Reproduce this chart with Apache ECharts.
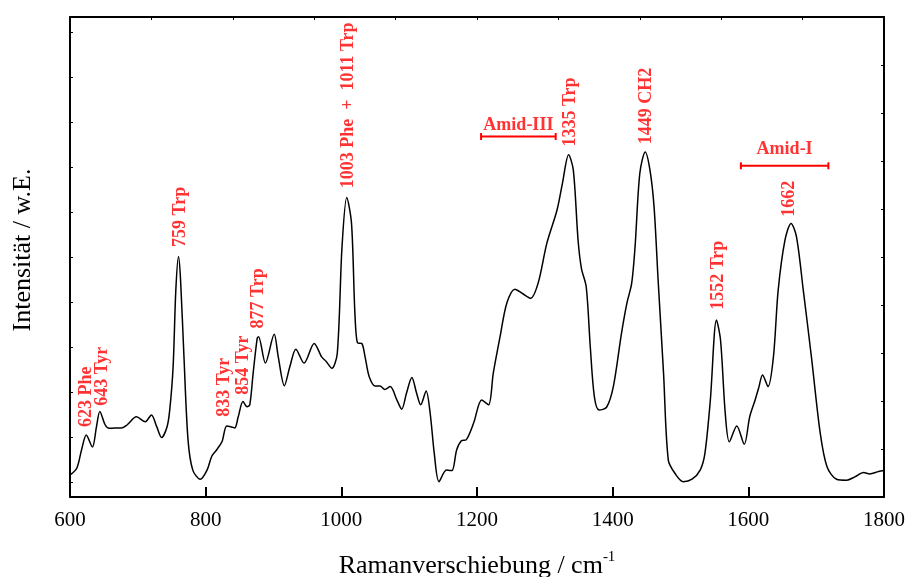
<!DOCTYPE html>
<html>
<head>
<meta charset="utf-8">
<script src="https://cdn.jsdelivr.net/npm/echarts@6/dist/echarts.min.js"></script>
<style>
html, body { margin: 0; padding: 0; background: #fff; }
#chart { width: 907px; height: 577px; }
</style>
</head>
<body>
<div id="chart"></div>
<script>
// Raman spectrum (intensity in arbitrary units 0..100)
const wavenumber = [600, 610, 617, 624, 633, 639, 644, 652, 658, 666, 676, 684, 698, 711, 720, 728, 735, 743, 747, 752,
  756, 760, 763, 768, 774, 781, 792, 802, 809, 816, 824, 831, 838, 843, 848, 855, 861, 865, 870, 876,
  878, 888, 901, 907, 916, 924, 933, 945, 960, 971, 978, 986, 994, 1001, 1008, 1015, 1020, 1024, 1030, 1035,
  1041, 1050, 1057, 1064, 1072, 1082, 1089, 1096, 1104, 1111, 1117, 1125, 1131, 1137, 1144, 1155, 1163, 1170, 1177, 1184,
  1195, 1207, 1217, 1224, 1234, 1244, 1256, 1267, 1279, 1290, 1303, 1318, 1326, 1335, 1342, 1349, 1354, 1361, 1367, 1373,
  1380, 1391, 1401, 1413, 1421, 1428, 1433, 1440, 1448, 1455, 1461, 1467, 1475, 1482, 1492, 1504, 1517, 1529, 1536, 1544,
  1553, 1559, 1566, 1572, 1583, 1594, 1602, 1610, 1615, 1621, 1629, 1637, 1644, 1654, 1663, 1671, 1681, 1693, 1706, 1716,
  1730, 1745, 1757, 1770, 1779, 1792, 1800];
const intensity = [4.6, 6.0, 9.8, 12.9, 10.4, 14.6, 17.8, 15.0, 14.3, 14.4, 14.4, 15.0, 16.7, 15.7, 17.1, 14.6, 12.4, 14.6, 18.1, 27.1,
  43.1, 50.1, 45.2, 29.2, 11.9, 5.6, 3.7, 5.6, 8.5, 9.8, 11.5, 14.8, 14.6, 14.4, 16.7, 19.9, 18.8, 19.2, 25.8, 33.1,
  33.4, 27.9, 33.9, 29.2, 23.2, 27.1, 30.8, 27.9, 32.0, 29.2, 28.2, 26.8, 29.9, 52.1, 62.4, 57.0, 38.3, 32.1, 32.0, 29.2,
  25.1, 23.1, 23.1, 22.4, 23.0, 20.2, 18.3, 21.6, 24.9, 21.6, 19.2, 22.1, 17.4, 9.1, 3.2, 5.6, 5.5, 9.8, 11.7, 11.9,
  15.4, 20.2, 19.2, 25.8, 33.4, 40.4, 43.3, 42.4, 41.4, 44.5, 52.9, 59.8, 65.4, 71.3, 68.1, 53.5, 47.6, 43.8, 31.3, 20.9,
  18.1, 18.7, 23.0, 34.1, 40.4, 44.5, 52.1, 67.4, 71.9, 68.1, 60.5, 45.2, 25.8, 7.7, 4.9, 3.2, 3.7, 5.6, 9.1, 20.2,
  36.9, 32.7, 17.4, 11.5, 14.8, 11.0, 16.7, 20.2, 22.6, 25.4, 23.0, 29.2, 43.1, 53.5, 57.0, 54.2, 43.1, 29.2, 13.3, 6.3,
  3.7, 3.5, 4.2, 5.1, 4.8, 5.3, 5.5];

// peak assignments: label text, where the (rotated) text starts
const peakNames = ['623 Phe', '643 Tyr', '759 Trp', '833 Tyr', '854 Tyr', '877 Trp',
  '1003 Phe  +  1011 Trp', '1335 Trp', '1449 CH2', '1552 Trp', '1662'];
const peakX = [624, 647, 763, 827, 856, 878, 1010, 1338, 1449, 1556, 1661];
const peakY = [14.6, 19.0, 52.1, 16.7, 21.3, 35.1, 64.3, 73.0, 73.5, 39.0, 58.4];

// amide band ranges
const bandNames = ['Amid-III', 'Amid-I'];
const bandStart = [1206, 1589];
const bandEnd = [1316, 1718];
const bandY = [75.1, 69.0];
const bandLabelY = [77.4, 72.5];

const leftTicks = [3.125, 12.5, 21.875, 31.25, 40.625, 50, 59.375, 68.75, 78.125, 87.5, 96.875];

const serif = 'Liberation Serif, Times New Roman, serif';
const red = '#ff0000';

let spectrum = wavenumber.map(function (w, i) { return [w, intensity[i]]; });
let peaks = peakNames.map(function (n, i) { return { name: n, value: [peakX[i], peakY[i]] }; });

let bandSeries = bandNames.map(function (n, i) {
  return {
    type: 'line',
    data: [[bandStart[i], bandY[i]], [bandEnd[i], bandY[i]]],
    symbol: 'rect',
    symbolSize: [2, 7],
    itemStyle: { color: red },
    lineStyle: { color: red, width: 2 },
    silent: true,
    z: 5
  };
});

let chart = echarts.init(document.getElementById('chart'));
chart.setOption({
  animation: false,
  grid: { left: 70, top: 17, right: 23, bottom: 80, outerBoundsMode: 'none', containLabel: false },
  xAxis: [{
    type: 'value',
    min: 600,
    max: 1800,
    interval: 200,
    name: 'Ramanverschiebung / cm{sup|-1}',
    nameLocation: 'middle',
    nameGap: 53,
    nameTextStyle: {
      fontFamily: serif, fontSize: 26, color: '#000',
      rich: { sup: { fontFamily: serif, fontSize: 15, color: '#000', verticalAlign: 'top', padding: [0, 0, 18, 0] } }
    },
    axisLine: { onZero: false, lineStyle: { color: '#000', width: 2 } },
    axisTick: { inside: true, length: 10, lineStyle: { color: '#000', width: 2 } },
    axisLabel: {
      fontFamily: serif, fontSize: 21, color: '#000', margin: 13,
      formatter: function (v) { return String(v); }
    },
    splitLine: { show: false }
  }, {
    type: 'value',
    position: 'top',
    min: 600,
    max: 1800,
    interval: 120,
    axisLine: { onZero: false, lineStyle: { color: '#000', width: 2 } },
    axisTick: { inside: true, length: 3, lineStyle: { color: '#000', width: 1 } },
    axisLabel: { show: false },
    splitLine: { show: false }
  }],
  yAxis: [{
    type: 'value',
    min: 0,
    max: 100,
    name: 'Intensität / w.E.',
    nameLocation: 'middle',
    nameGap: 34,
    nameTextStyle: { fontFamily: serif, fontSize: 26, color: '#000', padding: [0, 0, 0, 14] },
    axisLine: { onZero: false, lineStyle: { color: '#000', width: 2 } },
    axisTick: { inside: true, length: 3, customValues: leftTicks, lineStyle: { color: '#000', width: 1 } },
    axisLabel: { show: false },
    splitLine: { show: false }
  }, {
    type: 'value',
    position: 'right',
    min: 0,
    max: 100,
    interval: 10,
    axisLine: { onZero: false, lineStyle: { color: '#000', width: 2 } },
    axisTick: { inside: true, length: 3, lineStyle: { color: '#000', width: 1 } },
    axisLabel: { show: false },
    splitLine: { show: false }
  }],
  series: [{
    type: 'line',
    data: spectrum,
    showSymbol: false,
    smooth: 0.3,
    lineStyle: { color: '#000', width: 1.5 },
    z: 3
  }, {
    type: 'scatter',
    data: peaks,
    symbolSize: 0,
    silent: true,
    label: {
      show: true,
      position: 'inside',
      rotate: 90,
      align: 'left',
      verticalAlign: 'middle',
      formatter: '{b}',
      fontFamily: serif,
      fontSize: 18,
      fontWeight: 'bold',
      color: red
    },
    z: 6
  }, {
    type: 'scatter',
    data: bandNames.map(function (n, i) {
      return { name: n, value: [(bandStart[i] + bandEnd[i]) / 2, bandLabelY[i]] };
    }),
    symbolSize: 0,
    silent: true,
    label: {
      show: true,
      position: 'inside',
      align: 'center',
      verticalAlign: 'middle',
      formatter: '{b}',
      fontFamily: serif,
      fontSize: 18,
      fontWeight: 'bold',
      color: red
    },
    z: 6
  }].concat(bandSeries)
});
</script>
</body>
</html>
